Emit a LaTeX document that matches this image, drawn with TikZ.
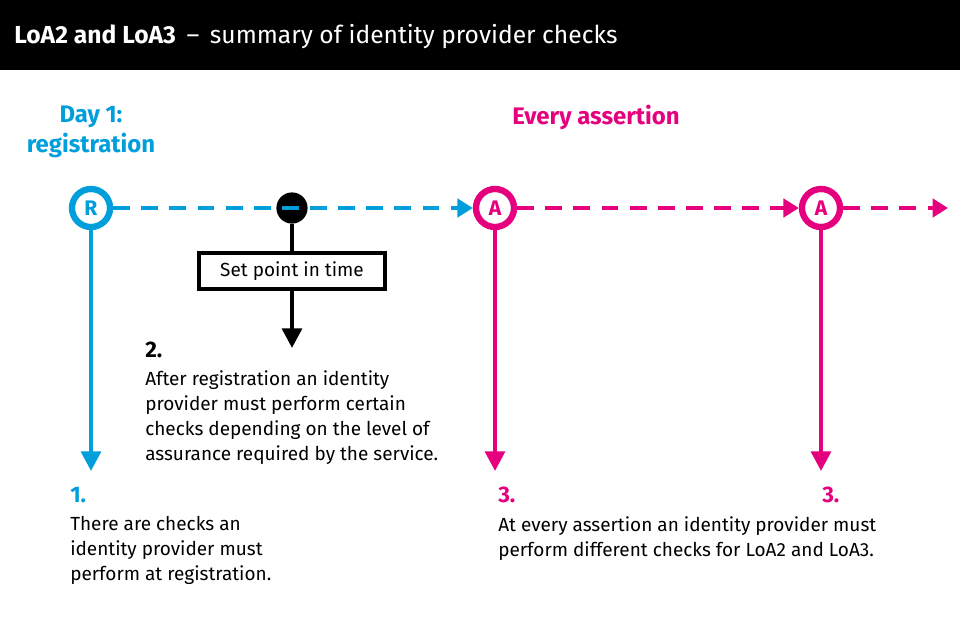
\documentclass[tikz,border=0pt]{standalone}
\usepackage{fontspec}
\setmainfont{Fira Sans}
\usetikzlibrary{arrows.meta}
\definecolor{blu}{RGB}{0,159,219}
\definecolor{mag}{RGB}{229,0,126}
\begin{document}
\begin{tikzpicture}[x=0.025cm,y=-0.025cm,
  circ/.style={circle,draw=#1,line width=4.5pt,fill=white,minimum size=0.95cm,inner sep=0pt,font=\fontsize{15}{15}\selectfont\bfseries,text=#1},
  dash/.style={draw=#1,line width=3.5pt,dash pattern=on 12pt off 8pt,-{Triangle[length=11pt,width=13pt]}},
  vline/.style={draw=#1,line width=3pt,-{Triangle[length=14pt,width=14pt]}},
  body/.style={anchor=north west,align=left,inner sep=0pt,font=\fontsize{13.5}{17.8}\selectfont},
  num/.style={anchor=west,inner sep=0pt,font=\fontsize{16}{16}\selectfont\bfseries,text=#1}]
\useasboundingbox (0,0) rectangle (960,640);
\fill[black] (0,0) rectangle (960,70);
\node[anchor=west,text=white,inner sep=0pt,font=\fontsize{17.5}{17.5}\selectfont] (title) at (14,37) {\textbf{LoA2 and LoA3} \,–\, summary of identity provider checks};
\node[align=center,text=blu,font=\fontsize{17}{21}\selectfont\bfseries,inner sep=0pt] (day) at (91,132) {Day 1:\\registration};
\node[anchor=west,text=mag,font=\fontsize{17}{21}\selectfont\bfseries,inner sep=0pt] (every) at (512,117) {Every assertion};
\node[circ=blu] (R) at (91,208) {R};
\node[circ=mag] (A1) at (495,208) {A};
\node[circ=mag] (A2) at (821,208) {A};
\node[circle,fill=black,minimum size=0.78cm,inner sep=0pt] (dot) at (292,208) {};
\coordinate (e1) at (948,208);
\draw[dash=blu] (R) -- (A1.west);
\draw[dash=mag] (A1) -- (A2.west);
\draw[dash=mag] (A2) -- (e1);
\node[draw=black,line width=3.5pt,fill=white,minimum width=4.65cm,minimum height=0.9cm,font=\fontsize{13.5}{14}\selectfont,inner sep=0pt] (box) at (292,271) {Set point in time};
\draw[line width=3pt] (dot) -- (box);
\coordinate (b2) at (292,348);
\draw[vline=black] (box) -- (b2);
\coordinate (b1) at (91,471);
\coordinate (b3) at (495,471);
\coordinate (b4) at (821,471);
\draw[vline=blu] (R) -- (b1);
\draw[vline=mag] (A1) -- (b3);
\draw[vline=mag] (A2) -- (b4);
\node[num=black] (n2) at (145,350) {2.};
\node[body] (t2) at (145,370) {After registration an identity\\provider must perform certain\\checks depending on the level of\\assurance required by the service.};
\node[num=blu] (n1) at (70,495) {1.};
\node[body] (t1) at (70,516) {There are checks an\\identity provider must\\perform at registration.};
\node[num=mag] (n3) at (498,495) {3.};
\node[num=mag] (n4) at (822,495) {3.};
\node[body] (t3) at (498,516) {At every assertion an identity provider must\\perform different checks for LoA2 and LoA3.};
\end{tikzpicture}
\end{document}
